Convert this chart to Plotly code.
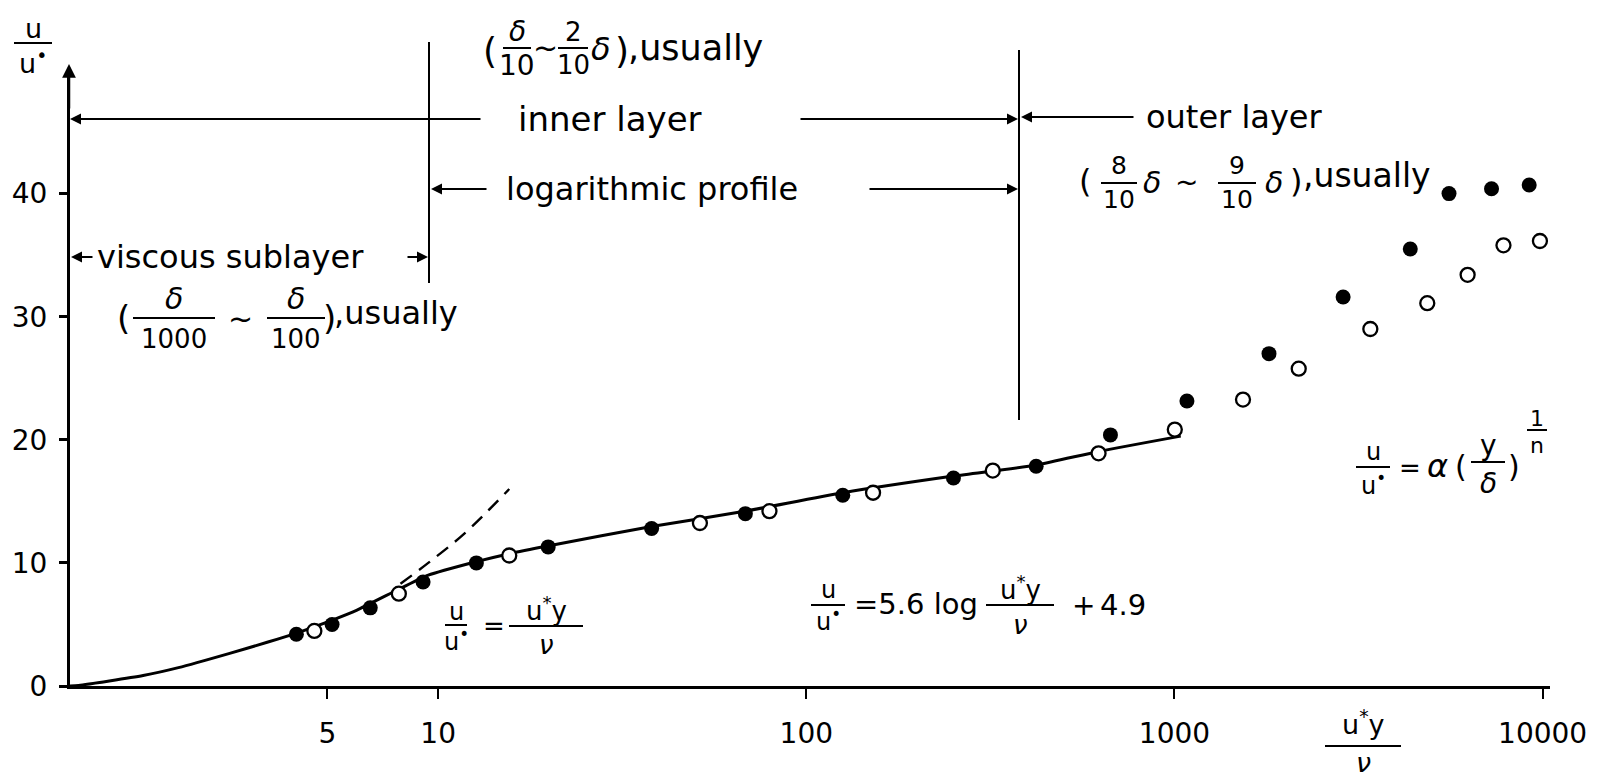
import plotly.graph_objects as go

# ---- data: velocity profile of a turbulent boundary layer ----
curve_x = [1.0, 1.055, 1.58, 1.97, 2.70, 3.45, 4.12, 5.2, 6.0, 7.87, 9.4, 12.7, 15.6, 20, 38, 68, 126, 251, 421, 622, 1040]
curve_y = [0.0, 0.05, 0.85, 1.49, 2.63, 3.57, 4.3, 5.4, 6.15, 7.9, 9.0, 10.1, 10.75, 11.4, 12.95, 14.2, 15.7, 17.05, 17.95, 19.05, 20.3]

viscous_x = [7.9, 9.4, 11.8, 15.6]
viscous_y = [8.3, 10.0, 12.4, 16.0]

filled_x = [4.12, 5.15, 6.54, 9.1, 12.7, 19.9, 38, 68.3, 125.6, 251, 421, 670, 1081, 1806, 2871, 4370, 5568, 7264, 9193]
filled_y = [4.2, 5.0, 6.35, 8.45, 10.0, 11.3, 12.8, 14.0, 15.5, 16.9, 17.85, 20.4, 23.15, 27.0, 31.6, 35.5, 40.0, 40.4, 40.7]

open_x = [4.61, 7.82, 15.6, 51.4, 79.4, 151.8, 321, 622, 1002, 1535, 2175, 3404, 4860, 6255, 7827, 9832]
open_y = [4.47, 7.5, 10.6, 13.24, 14.2, 15.7, 17.5, 18.9, 20.83, 23.27, 25.78, 29.0, 31.1, 33.4, 35.8, 36.15]

x_ticks = [5, 10, 100, 1000, 10000]
x_tick_text = ["5", "10", "100", "1000", "10000"]
y_ticks = [0, 10, 20, 30, 40]
y_tick_text = ["0", "10", "20", "30", "40"]

# ---- page geometry (pixels) ----
W, H = 1602, 780
L, R, T, B = 70, 1550, 68, 686
FONT = "DejaVu Sans"


def px(x):
    return (x - L) / (R - L)


def py(y):
    return (B - y) / (B - T)


fig = go.Figure()

fig.add_trace(go.Scatter(x=curve_x, y=curve_y, mode="lines",
                         line=dict(color="black", width=3, shape="spline", smoothing=0.6),
                         hoverinfo="skip"))
fig.add_trace(go.Scatter(x=viscous_x, y=viscous_y, mode="lines",
                         line=dict(color="black", width=2.4, dash="14px,9px", shape="spline"),
                         hoverinfo="skip"))
fig.add_trace(go.Scatter(x=filled_x, y=filled_y, mode="markers",
                         marker=dict(size=15, color="black", line=dict(width=0))))
fig.add_trace(go.Scatter(x=open_x, y=open_y, mode="markers",
                         marker=dict(size=14, color="white", line=dict(width=2.3, color="black"))))

annotations = []
shapes = []


def text(x, y, s, size=28, xanchor="center", italic=False):
    if italic:
        s = "<i>" + s + "</i>"
    annotations.append(dict(x=px(x), y=py(y), xref="paper", yref="paper", text=s,
                            showarrow=False, xanchor=xanchor, yanchor="middle",
                            font=dict(family=FONT, size=size, color="black")))


def hline(x0, x1, y, width=2):
    shapes.append(dict(type="line", xref="paper", yref="paper",
                       x0=px(x0), x1=px(x1), y0=py(y), y1=py(y),
                       line=dict(color="black", width=width)))


def vline(x, y0, y1, width=2):
    shapes.append(dict(type="line", xref="paper", yref="paper",
                       x0=px(x), x1=px(x), y0=py(y0), y1=py(y1),
                       line=dict(color="black", width=width)))


def arrow(hx, hy, tx, ty, width=2):
    annotations.append(dict(x=px(hx), y=py(hy), xref="paper", yref="paper",
                            ax=tx - hx, ay=ty - hy, text="", showarrow=True,
                            arrowhead=2, arrowsize=1.1, arrowwidth=width,
                            arrowcolor="black", standoff=0, startstandoff=0))


def frac(cx, bar_y, half, num, den, num_y, den_y, size=26, den_size=None, italic_den=False):
    hline(cx - half, cx + half, bar_y, width=2)
    text(cx, num_y, num, size)
    text(cx, den_y, den, den_size or size, italic=italic_den)


U_STAR = "u<sup>•</sup>"
U_STAR_Y = "u<sup>*</sup>y"

# y-axis title and arrow
frac(33, 43, 19, "u", U_STAR, 28, 61, size=27)
arrow(69, 64, 69, 110, width=2.5)

# x-axis title
frac(1363, 746, 38, U_STAR_Y, "ν", 722, 762, size=27, italic_den=True)

# region boundaries
vline(429, 42, 283)
vline(1019, 50, 420)

# inner layer
arrow(70, 119, 482, 119)
arrow(1018, 119, 799, 119)
text(610, 119, "inner layer", 34)
# outer layer
arrow(1021, 117, 1135, 117)
text(1234, 117, "outer layer", 32)
# logarithmic profile
arrow(431, 189, 488, 189)
arrow(1018, 189, 868, 189)
text(652, 189, "logarithmic profile", 32)
# viscous sublayer
arrow(71, 257, 94, 257)
arrow(428, 257, 406, 257)
text(230, 257, "viscous sublayer", 32)

# (δ/10 ~ 2/10 δ),usually
text(490, 50, "(", 36)
frac(517, 48, 14, "<i>δ</i>", "10", 31, 65, size=28)
text(545, 47, "~", 30)
frac(573, 48, 15, "2", "10", 32, 65, size=26)
text(601, 49, "δ", 32, italic=True)
text(622, 50, ")", 36)
text(626, 48, ",usually", 35, xanchor="left")

# (δ/1000 ~ δ/100),usually
text(123, 318, "(", 34)
frac(174, 318, 41, "<i>δ</i>", "1000", 298, 339, size=30, den_size=26)
text(240, 318, "~", 30)
frac(296, 318, 29, "<i>δ</i>", "100", 298, 339, size=30, den_size=26)
text(329, 318, ")", 34)
text(332, 313, ",usually", 32, xanchor="left")

# (8/10 δ ~ 9/10 δ),usually
text(1085, 181, "(", 32)
frac(1119, 183, 18, "8", "10", 165, 199, size=25)
text(1152, 182, "δ", 30, italic=True)
text(1186, 183, "~", 28)
frac(1237, 183, 19, "9", "10", 165, 199, size=25)
text(1274, 182, "δ", 30, italic=True)
text(1296, 181, ")", 32)
text(1301, 175, ",usually", 33, xanchor="left")

# u/u* = u*y/ν
frac(456, 625, 11, "u", U_STAR, 612, 640, size=24)
text(494, 626, "=", 26)
frac(546, 626, 37, U_STAR_Y, "ν", 609, 645, size=26, italic_den=True)

# u/u* = 5.6 log u*y/ν + 4.9
frac(828, 605, 17, "u", U_STAR, 590, 620, size=24)
text(852, 604, "=5.6 log", 29, xanchor="left")
frac(1020, 605, 34, U_STAR_Y, "ν", 588, 625, size=26, italic_den=True)
text(1083, 605, "+", 28)
text(1098, 605, "4.9", 29, xanchor="left")

# u/u* = α (y/δ)^(1/n)
frac(1373, 467, 17, "u", U_STAR, 452, 484, size=24)
text(1410, 468, "=", 26)
text(1437, 466, "α", 32, italic=True)
text(1461, 466, "(", 30)
frac(1488, 462, 17, "y", "<i>δ</i>", 445, 483, size=28)
text(1514, 466, ")", 30)
frac(1537, 430, 10, "1", "n", 418, 446, size=22)

fig.update_layout(
    width=W, height=H, autosize=False,
    margin=dict(l=L, r=W - R, t=T, b=H - B, pad=0),
    plot_bgcolor="white", paper_bgcolor="white",
    showlegend=False,
    font=dict(family=FONT, size=28, color="black"),
    annotations=annotations, shapes=shapes,
    xaxis=dict(type="log", range=[0, 4.02], tickvals=x_ticks, ticktext=x_tick_text,
               ticks="outside", ticklen=10, tickwidth=2, tickcolor="black",
               showline=True, linewidth=3, linecolor="black",
               showgrid=False, zeroline=False, ticklabelstandoff=10,
               tickfont=dict(family=FONT, size=28, color="black")),
    yaxis=dict(range=[0, (B - T) / 12.31], tickvals=y_ticks, ticktext=y_tick_text,
               ticks="outside", ticklen=8, tickwidth=2.5, tickcolor="black",
               showline=True, linewidth=3, linecolor="black",
               showgrid=False, zeroline=False, ticklabelstandoff=6,
               tickfont=dict(family=FONT, size=28, color="black")),
)

fig.write_html("out.html")
